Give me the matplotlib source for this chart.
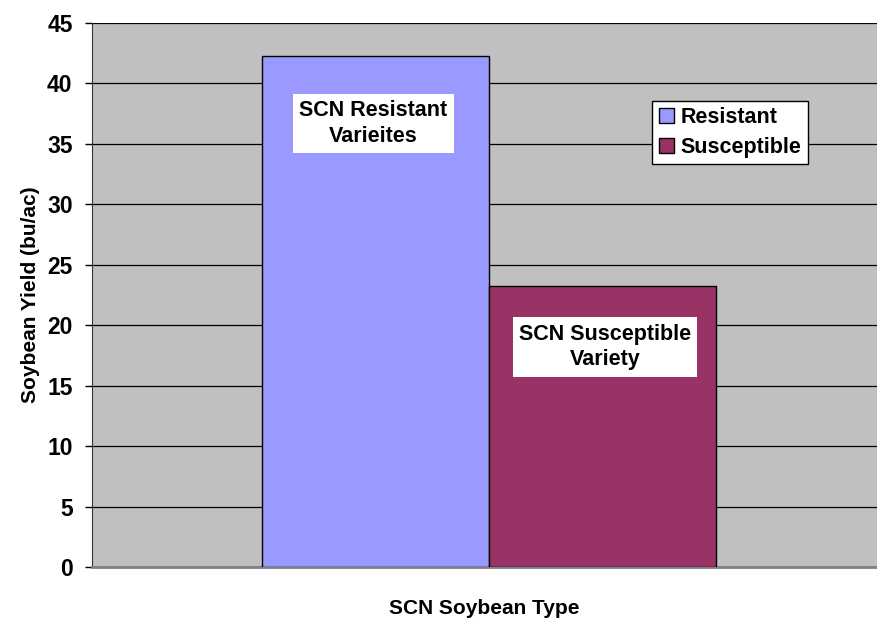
import matplotlib
matplotlib.use("Agg")
import matplotlib.pyplot as plt

categories = ["Resistant", "Susceptible"]
yields = [42.3, 23.2]
bar_labels = ["SCN Resistant\nVarieites", "SCN Susceptible\nVariety"]
colors = ["#9999FF", "#993366"]
yticks = [0, 5, 10, 15, 20, 25, 30, 35, 40, 45]

plt.rcParams["font.family"] = ["Liberation Sans", "DejaVu Sans"]
plt.rcParams["font.weight"] = "bold"

fig = plt.figure(figsize=(8.77, 6.19), dpi=100)
ax = fig.add_axes([0.1049, 0.084, 0.8951, 0.879])
ax.set_facecolor("#C0C0C0")

positions = [-0.5, 0.5]
bars = ax.bar(positions, yields, width=1.0, color=colors, edgecolor="black",
              linewidth=1.0, label=categories, zorder=3)

# in-bar annotation boxes
label_pos = [(-0.51, 36.7), (0.51, 18.2)]
for (x, y), text in zip(label_pos, bar_labels):
    ax.text(x, y, text, ha="center", va="center", fontsize=15.5, fontweight="bold",
            linespacing=1.3, zorder=4,
            bbox=dict(facecolor="white", edgecolor="none", pad=4.5))

ax.set_xlim(-1.749, 1.709)
ax.set_ylim(0, 45)
ax.set_yticks(yticks)
ax.set_yticklabels([str(t) for t in yticks], fontsize=16.5, fontweight="bold")
ax.set_xticks([])
ax.yaxis.grid(True, color="black", linewidth=0.9, zorder=1)
ax.set_axisbelow(True)
ax.tick_params(axis="y", direction="out", length=5, width=1, pad=9)

for side in ["top", "right"]:
    ax.spines[side].set_visible(False)
ax.spines["left"].set_color("#333333")
ax.spines["bottom"].set_color("#808080")
ax.spines["bottom"].set_linewidth(2)

ax.set_ylabel("Soybean Yield (bu/ac)", fontsize=15, fontweight="bold", labelpad=5)
ax.set_xlabel("SCN Soybean Type", fontsize=15, fontweight="bold", labelpad=23)

leg = ax.legend(handles=bars, labels=categories, loc="upper left",
                bbox_to_anchor=(0.714, 0.857), fontsize=15.5, frameon=True,
                fancybox=False, edgecolor="black", framealpha=1,
                handlelength=0.7, handleheight=0.7, handletextpad=0.3,
                borderpad=0.3, labelspacing=0.4, borderaxespad=0)
leg.get_frame().set_linewidth(1)

fig.savefig("out.png", dpi=100)
